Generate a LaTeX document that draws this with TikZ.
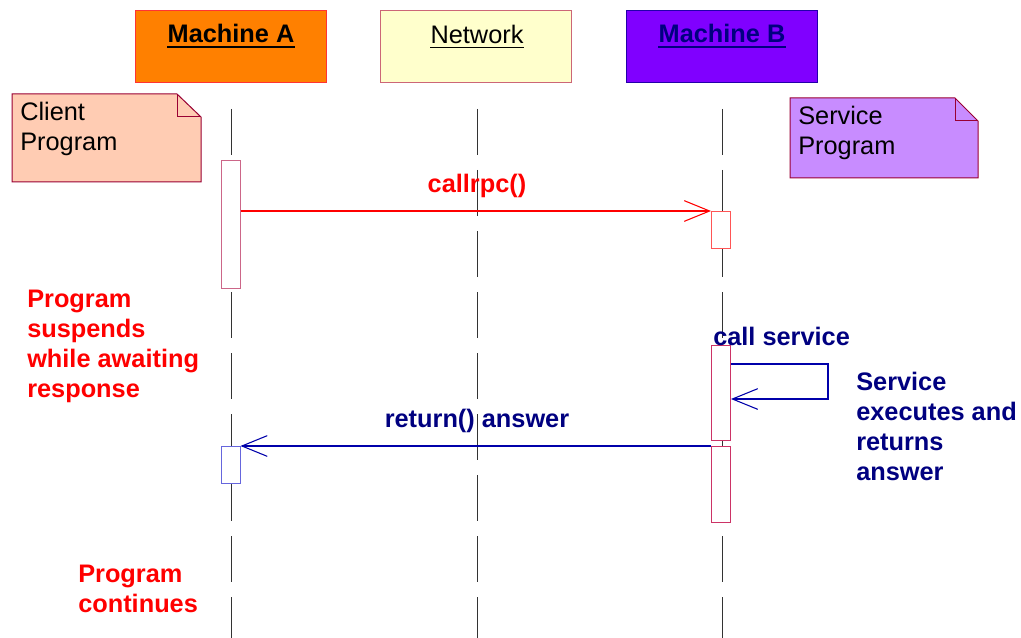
\documentclass[tikz,border=0pt]{standalone}
\usepackage{fontspec}
\setmainfont{Liberation Sans}
\usetikzlibrary{arrows.meta}
\definecolor{orangeA}{HTML}{FF8000}
\definecolor{borderA}{HTML}{FF3333}
\definecolor{netfill}{HTML}{FFFFCC}
\definecolor{netborder}{HTML}{CC6677}
\definecolor{violetB}{HTML}{8000FF}
\definecolor{borderB}{HTML}{2200AA}
\definecolor{navytext}{HTML}{000080}
\definecolor{peach}{HTML}{FFCCB3}
\definecolor{lilac}{HTML}{C88CFF}
\definecolor{noteborder}{HTML}{990033}
\definecolor{actpink}{HTML}{CC6688}
\definecolor{actred}{HTML}{FF5555}
\definecolor{actcrim}{HTML}{CC3366}
\definecolor{actblue}{HTML}{6666DD}
\definecolor{msgred}{HTML}{FF0000}
\definecolor{msgblue}{HTML}{0000AA}
\definecolor{lifegray}{HTML}{333333}
\tikzset{
  objbox/.style={draw, line width=0.75pt, minimum width=143.25pt, minimum height=54pt, inner sep=0pt},
  lbl/.style={inner sep=0pt, font=\fontsize{19}{22.5}\selectfont},
  blbl/.style={inner sep=0pt, align=left, font=\fontsize{19}{22.5}\selectfont\bfseries},
  lifeline/.style={draw=lifegray, line width=0.75pt, dash pattern=on 34.5pt off 11.25pt},
  actbox/.style={draw, fill=white, line width=0.75pt, minimum width=14.25pt, inner sep=0pt, anchor=north},
  msg/.style={line width=0.8pt, -{Straight Barb[length=19pt,width=15.5pt,line width=0.8pt]}},
  notebox/.style={line width=0.75pt, draw=noteborder},
}
\begin{document}
\begin{tikzpicture}[x=0.75pt, y=-0.75pt]
\useasboundingbox (0,0) rectangle (1021,638);

% lifelines
\coordinate (la0) at (231,109); \coordinate (la1) at (231,645);
\coordinate (ln0) at (477,109); \coordinate (ln1) at (477,645);
\coordinate (lb0) at (722,109); \coordinate (lb1) at (722,645);
\draw[lifeline] (la0) -- (la1);
\draw[lifeline] (ln0) -- (ln1);
\draw[lifeline] (lb0) -- (lb1);

% object boxes
\node[objbox, draw=borderA, fill=orangeA] (ma) at (230.5,47) {};
\node[objbox, draw=netborder, fill=netfill] (nw) at (475.5,47) {};
\node[objbox, draw=borderB, fill=violetB] (mb) at (721.5,47) {};
\node[lbl, font=\fontsize{19}{22.5}\selectfont\bfseries, anchor=base] (malbl) at (231,42.5) {Machine A};
\node[lbl, anchor=base] (nwlbl) at (477,43.5) {Network};
\node[lbl, font=\fontsize{19}{22.5}\selectfont\bfseries, text=navytext, anchor=base] (mblbl) at (722,42.5) {Machine B};
\draw[line width=1.5pt] ([yshift=-3.4pt]malbl.base west) -- ([yshift=-3.4pt]malbl.base east);
\draw[line width=1pt] ([yshift=-3.2pt]nwlbl.base west) -- ([yshift=-3.2pt]nwlbl.base east);
\draw[line width=1.5pt, navytext] ([yshift=-3.4pt]mblbl.base west) -- ([yshift=-3.4pt]mblbl.base east);

% notes
\filldraw[notebox, fill=peach] (12,94) -- (177,94) -- (201,117) -- (201,182) -- (12,182) -- cycle;
\draw[notebox] (177,94) -- (177,117) -- (201,117);
\node[lbl, align=left, anchor=base west] (cp) at (20,151) {Client\\Program};
\filldraw[notebox, fill=lilac] (790,98) -- (955,98) -- (978,121) -- (978,178) -- (790,178) -- cycle;
\draw[notebox] (955,98) -- (955,121) -- (978,121);
\node[lbl, align=left, anchor=base west] (sp) at (798,155) {Service\\Program};

% activation boxes
\node[actbox, draw=actpink, minimum height=95.25pt] (a1) at (230.5,160.5) {};
\node[actbox, draw=actred, minimum height=27.75pt] (b1) at (721,211) {};
\node[actbox, draw=actcrim, minimum height=71.25pt] (b2) at (721,345) {};
\node[actbox, draw=actcrim, minimum height=57pt] (b3) at (721,446) {};
\node[actbox, draw=actblue, minimum height=27.75pt] (a2) at (230.5,446) {};

% messages
\draw[msg, msgred] (a1.east |- b1.north west) -- (b1.north west);
\node[blbl, text=msgred, anchor=base] (callrpc) at (477,193) {callrpc()};

\coordinate (loopa) at (828,364);
\coordinate (loopb) at (828,399);
\draw[msg, msgblue] (b2.east |- loopa) -- (loopa) -- (loopb) -- (b2.east |- loopb);
\node[blbl, text=navytext, anchor=base west] (callsvc) at (713,345) {call service};

\draw[msg, msgblue] (b3.north west) -- (a2.north east);
\node[blbl, text=navytext, anchor=base] (ret) at (477,427) {return() answer};

% annotations
\node[blbl, text=msgred, anchor=base west] (susp) at (27,397) {Program\\suspends\\while awaiting\\response};
\node[blbl, text=navytext, anchor=base west] (exec) at (856,480) {Service\\executes and\\returns\\answer};
\node[blbl, text=msgred, anchor=base west] (cont) at (78,612) {Program\\continues};
\end{tikzpicture}
\end{document}
